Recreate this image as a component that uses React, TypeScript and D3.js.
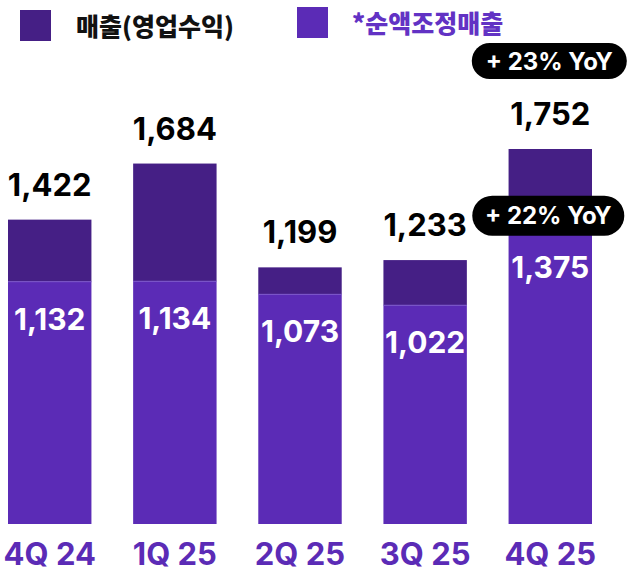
import React from "react";
import * as d3 from "d3";

const quarters = ["4Q 24", "1Q 25", "2Q 25", "3Q 25", "4Q 25"];
const revenue = [1422, 1684, 1199, 1233, 1752];
const netAdjusted = [1132, 1134, 1073, 1022, 1375];
const legendLabels = ["매출(영업수익)", "*순액조정매출"];
const yoyTotal = "+ 23% YoY";
const yoyNet = "+ 22% YoY";

const WIDTH = 628;
const HEIGHT = 571;
const DARK = "#451f85";
const LIGHT = "#5b2bb6";
const FONT = "Inter, 'Noto Sans CJK KR', sans-serif";
const KFONT = "'Noto Sans CJK KR', sans-serif";

const fmt = d3.format(",");

const App: React.FC = () => {
  const x = d3
    .scaleBand<string>()
    .domain(quarters)
    .range([8, 592])
    .paddingInner(1 / 3)
    .paddingOuter(0);

  const y = d3.scaleLinear().domain([0, 1752]).range([524, 149]);

  const last = quarters[quarters.length - 1];
  const lastCx = (x(last) || 0) + x.bandwidth() / 2;

  const badge = (cx: number, cy: number, w: number, h: number, label: string) => (
    <g>
      <rect x={cx - w / 2} y={cy - h / 2} width={w} height={h} rx={h / 2} fill="#000" />
      <text
        x={cx}
        y={cy + 8.5}
        textAnchor="middle"
        fill="#fff"
        fontFamily={FONT}
        fontWeight={700}
        fontSize={24}
      >
        {label}
      </text>
    </g>
  );

  return (
    <svg
      width={WIDTH}
      height={HEIGHT}
      style={{ position: "absolute", left: 0, top: 0, background: "#fff" }}
    >
      {/* legend */}
      <rect x={20} y={10} width={31} height={31} fill={DARK} />
      <text x={76} y={36} fontFamily={KFONT} fontWeight={900} fontSize={25} fill="#111">
        {legendLabels[0]}
      </text>
      <rect x={297} y={7} width={31} height={31} fill={LIGHT} />
      <text x={352} y={33} fontFamily={KFONT} fontWeight={900} fontSize={25} fill="#6232c4">
        {legendLabels[1]}
      </text>

      {quarters.map((q, i) => {
        const bx = x(q) || 0;
        const bw = x.bandwidth();
        const cx = bx + bw / 2;
        return (
          <g key={q}>
            <rect x={bx} y={y(revenue[i])} width={bw} height={y(netAdjusted[i]) - y(revenue[i])} fill={DARK} />
            <rect x={bx} y={y(netAdjusted[i])} width={bw} height={y(0) - y(netAdjusted[i])} fill={LIGHT} />
            <line
              x1={bx}
              x2={bx + bw}
              y1={y(netAdjusted[i])}
              y2={y(netAdjusted[i])}
              stroke="#7a55c9"
              strokeWidth={1}
            />
            <text
              x={cx}
              y={y(revenue[i]) - 24}
              textAnchor="middle"
              fontFamily={FONT}
              fontWeight={700}
              fontSize={31}
              fill="#000"
            >
              {fmt(revenue[i])}
            </text>
            <text
              x={cx}
              y={y(netAdjusted[i]) + 48}
              textAnchor="middle"
              fontFamily={FONT}
              fontWeight={700}
              fontSize={30}
              fill="#fff"
            >
              {fmt(netAdjusted[i])}
            </text>
            <text
              x={cx}
              y={565}
              textAnchor="middle"
              fontFamily={FONT}
              fontWeight={700}
              fontSize={31}
              fill={LIGHT}
            >
              {q}
            </text>
          </g>
        );
      })}

      {badge(lastCx - 1, y(1752) - 88, 155, 36, yoyTotal)}
      {badge(lastCx - 2, y(1375) - 14, 152, 40, yoyNet)}
    </svg>
  );
};

export default App;
